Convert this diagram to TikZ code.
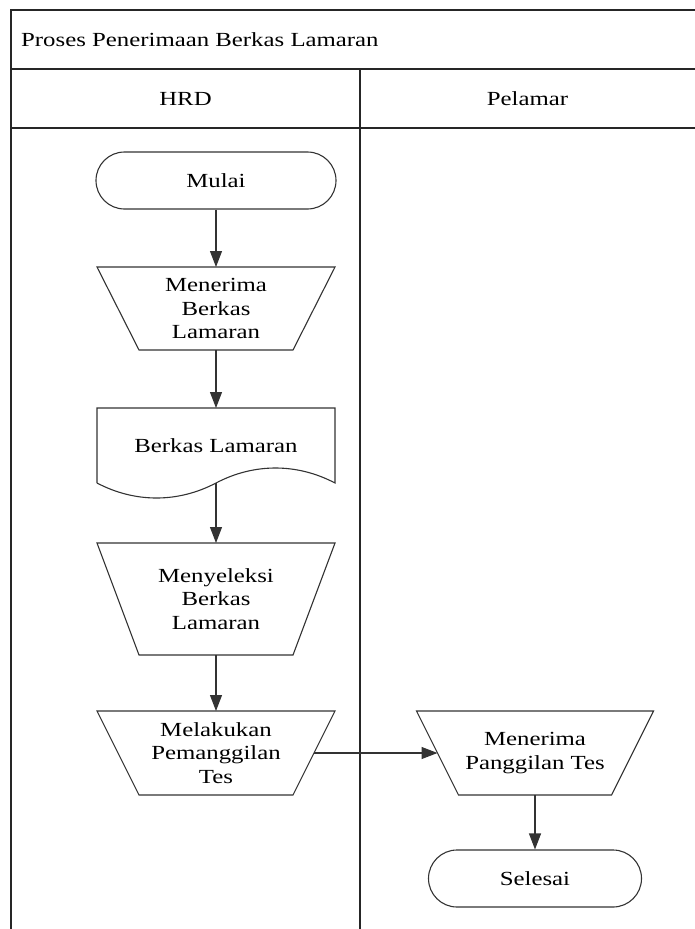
\documentclass[tikz,border=0pt]{standalone}
\usepackage{fontspec}
\usepackage{graphicx}
\setmainfont{Liberation Serif}
\usetikzlibrary{arrows.meta,shapes.misc}

% wide-set label text
\newcommand{\wtxt}[1]{\scalebox{1.24}[1]{#1}}

\tikzset{
  lane/.style={line width=1.6bp, draw=black!85},
  outline/.style={line width=1.1bp, draw=black!80},
  label/.style={font=\fontsize{20bp}{23.5bp}\selectfont, text=black, align=center, inner sep=0pt},
  terminal/.style={rounded rectangle, outline, label, minimum height=57bp},
  opbox/.style={rectangle, draw=none, outer sep=0pt, label, minimum width=238bp},
  flow/.style={line width=1.1bp, draw=black!80, -{Triangle[length=16bp,width=12bp]}},
}

% manual-operation outline (wide top, narrow bottom)
\newcommand{\manualop}[1]{%
  \draw[outline] (#1.north west) -- (#1.north east)
    -- ([xshift=-42bp]#1.south east) -- ([xshift=42bp]#1.south west) -- cycle;}

\begin{document}
\begin{tikzpicture}[x=1bp, y=-1bp]
  \useasboundingbox (0,0) rectangle (695,929);

  % pool frame and lanes
  \draw[lane] (11,929) -- (11,10) -- (695,10);
  \draw[lane] (11,69) -- (695,69);
  \draw[lane] (11,128) -- (695,128);
  \draw[lane] (360,69) -- (360,929);

  \node[label, anchor=base west] (title) at (21,46) {\wtxt{Proses Penerimaan Berkas Lamaran}};
  \node[label] (hrd) at (185.5,99) {\wtxt{HRD}};
  \node[label] (pelamar) at (527.5,99) {\wtxt{Pelamar}};

  % HRD lane
  \node[terminal, minimum width=240bp] (mulai) at (216,180.5) {\wtxt{Mulai}};

  \node[opbox, minimum height=83bp] (terima) at (216,308.5)
    {\wtxt{Menerima}\\\wtxt{Berkas}\\\wtxt{Lamaran}};
  \manualop{terima}

  \node[opbox, minimum height=75bp] (berkas) at (216,445.5) {\wtxt{Berkas Lamaran}};
  \draw[outline] (97,483) -- (97,408) -- (335,408) -- (335,483)
    .. controls (297,463) and (254,463) .. (216,483)
    .. controls (178,503) and (135,503) .. (97,483);

  \node[opbox, minimum height=112bp] (seleksi) at (216,599)
    {\wtxt{Menyeleksi}\\\wtxt{Berkas}\\\wtxt{Lamaran}};
  \manualop{seleksi}

  \node[opbox, minimum height=84bp] (panggil) at (216,753)
    {\wtxt{Melakukan}\\\wtxt{Pemanggilan}\\\wtxt{Tes}};
  \manualop{panggil}

  % Pelamar lane
  \node[opbox, minimum width=237bp, minimum height=84bp] (terimates) at (535,753)
    {\wtxt{Menerima}\\\wtxt{Panggilan Tes}};
  \manualop{terimates}

  \node[terminal, minimum width=213bp] (selesai) at (535,878.5) {\wtxt{Selesai}};

  % flow
  \draw[flow] (mulai.south) -- (terima.north);
  \draw[flow] (terima.south) -- (berkas.north);
  \draw[flow] (berkas.south) -- (seleksi.north);
  \draw[flow] (seleksi.south) -- (panggil.north);
  \draw[flow] ([xshift=-21bp]panggil.east) -- ([xshift=21bp]terimates.west);
  \draw[flow] (terimates.south) -- (selesai.north);
\end{tikzpicture}
\end{document}
